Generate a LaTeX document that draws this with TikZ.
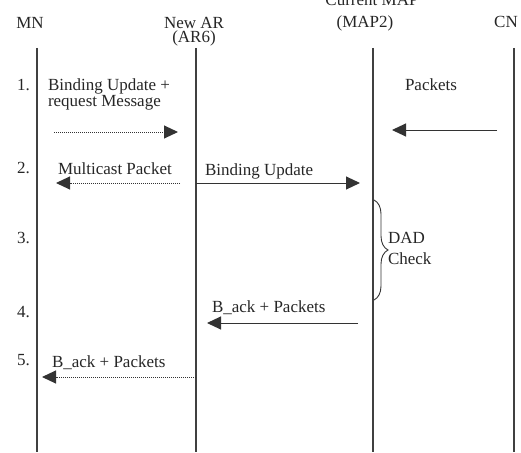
\documentclass[tikz,border=0pt]{standalone}
\usepackage{fontspec}
\setmainfont{Liberation Serif}
\usetikzlibrary{arrows.meta,decorations.pathreplacing}

\tikzset{
  lbl/.style={inner sep=0pt, outer sep=0pt, font=\fontsize{17}{17}\selectfont, text=black!85},
  lifeline/.style={draw=black!75, line width=1.2pt},
  msg/.style={draw=black!80, line width=1pt, -{Triangle[length=14pt,width=13pt]}},
  dmsg/.style={msg, dash pattern=on 1pt off 1pt},
}

\begin{document}
\begin{tikzpicture}[x=1pt,y=-1pt]
  \useasboundingbox (0,0) rectangle (521,452);

  % entity headings
  \node[lbl, anchor=base] (hmn)   at (30,29)  {MN};
  \node[lbl, anchor=base] (har1)  at (194,29) {New AR};
  \node[lbl, anchor=base] (har2)  at (194,43) {(AR6)};
  \node[lbl, anchor=base] (hmap1) at (372,6)  {Current MAP};
  \node[lbl, anchor=base] (hmap2) at (365,28) {(MAP2)};
  \node[lbl, anchor=base] (hcn)   at (506,28) {CN};

  % lifelines
  \coordinate (mnT)  at (37,48);  \coordinate (mnB)  at (37,452);
  \coordinate (arT)  at (196,48); \coordinate (arB)  at (196,452);
  \coordinate (mapT) at (373,48); \coordinate (mapB) at (373,452);
  \coordinate (cnT)  at (514,48); \coordinate (cnB)  at (514,452);
  \draw[lifeline] (mnT) -- (mnB);
  \draw[lifeline] (arT) -- (arB);
  \draw[lifeline] (mapT) -- (mapB);
  \draw[lifeline] (cnT) -- (cnB);

  % step numbers
  \node[lbl, anchor=base west] (s1) at (17,90)  {1.};
  \node[lbl, anchor=base west] (s2) at (17,173) {2.};
  \node[lbl, anchor=base west] (s3) at (17,243) {3.};
  \node[lbl, anchor=base west] (s4) at (17,317) {4.};
  \node[lbl, anchor=base west] (s5) at (17,365) {5.};

  % step 1
  \node[lbl, anchor=base west] (bu1a) at (48,90)  {Binding Update +};
  \node[lbl, anchor=base west] (bu1b) at (48,106) {request Message};
  \node[lbl, anchor=base west] (pk1)  at (405,90) {Packets};
  \coordinate (a1s) at (54,132);  \coordinate (a1e) at (178,132);
  \coordinate (p1s) at (497,130); \coordinate (p1e) at (392,130);
  \draw[dmsg] (a1s) -- (a1e);
  \draw[msg]  (p1s) -- (p1e);

  % step 2
  \node[lbl, anchor=base west] (mc) at (58,174)  {Multicast Packet};
  \node[lbl, anchor=base west] (bu) at (205,175) {Binding Update};
  \coordinate (a2s) at (180,183); \coordinate (a2e) at (56,183);
  \coordinate (b2s) at (196,183); \coordinate (b2e) at (360,183);
  \draw[dmsg] (a2s) -- (a2e);
  \draw[msg]  (b2s) -- (b2e);

  % step 3: duplicate address detection
  \coordinate (brT) at (374,200); \coordinate (brB) at (374,300);
  \draw[draw=black!80, line width=0.9pt,
        decorate, decoration={brace, amplitude=14pt}] (brT) -- (brB);
  \node[lbl, anchor=base west] (dad1) at (388,243) {DAD};
  \node[lbl, anchor=base west] (dad2) at (388,264) {Check};

  % step 4
  \node[lbl, anchor=base west] (ack4) at (212,312) {B\_ack + Packets};
  \coordinate (a4s) at (358,323); \coordinate (a4e) at (207,323);
  \draw[msg] (a4s) -- (a4e);

  % step 5
  \node[lbl, anchor=base west] (ack5) at (52,367) {B\_ack + Packets};
  \coordinate (a5s) at (196,377); \coordinate (a5e) at (42,377);
  \draw[dmsg] (a5s) -- (a5e);
\end{tikzpicture}
\end{document}
